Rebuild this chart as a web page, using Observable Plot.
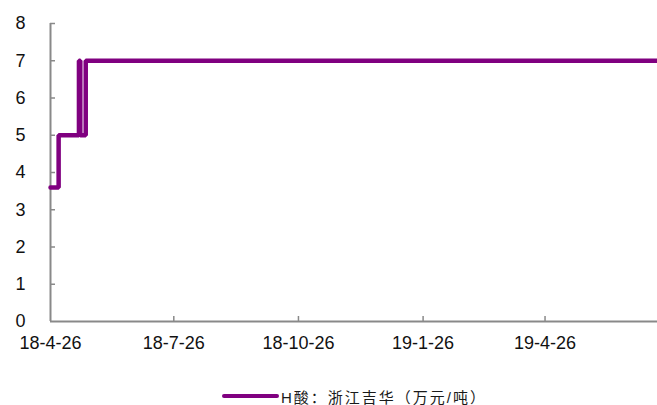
<!DOCTYPE html>
<html>
<head>
<meta charset="utf-8">
<script src="https://cdn.jsdelivr.net/npm/d3@7"></script>
<script src="https://cdn.jsdelivr.net/npm/@observablehq/plot@0.6"></script>
<style>
  html, body { margin: 0; padding: 0; background: #fff; }
  #wrap { position: relative; width: 657px; height: 405px; overflow: hidden; }
  #legend { position: absolute; left: 0; top: 386px; width: 657px; height: 20px;
    font: 15px "Liberation Sans", Arial, "Noto Sans CJK SC", sans-serif; color: #1a1a1a; }
  #legend .sw { position: absolute; left: 222px; top: 8px; width: 57px; height: 4px; background: #800080; border-radius: 2px; }
  #legend .lbl { position: absolute; left: 281px; top: 2px; line-height: 20px; white-space: nowrap; letter-spacing: 2px; }
</style>
</head>
<body>
<div id="wrap">
  <div id="chart"></div>
  <div id="legend"><div class="sw"></div><div class="lbl">H酸：浙江吉华（万元/吨）</div></div>
</div>
<script>
const dates = ["2018-04-26", "2018-05-02", "2018-05-17", "2018-05-18", "2018-05-22", "2019-07-18"];
const values = [3.6, 5, 7, 5, 7, 7];
const xTickDates = ["2018-04-26", "2018-07-26", "2018-10-26", "2019-01-26", "2019-04-26"];
const yTicks = [0, 1, 2, 3, 4, 5, 6, 7, 8];
const xDomain = ["2018-04-26", "2019-07-18"];

const data = dates.map((d, i) => ({date: new Date(d + "T00:00:00Z"), value: values[i]}));
const xt = xTickDates.map(d => new Date(d + "T00:00:00Z"));
const fmt = d => `${String(d.getUTCFullYear()).slice(2)}-${d.getUTCMonth() + 1}-${d.getUTCDate()}`;
const start = new Date(xDomain[0] + "T00:00:00Z");
const axisColor = "#898989";

const chart = Plot.plot({
  width: 657,
  height: 365,
  marginLeft: 50,
  marginRight: 0,
  marginTop: 23,
  marginBottom: 44,
  style: {fontFamily: "'Liberation Sans', Arial, sans-serif", fontSize: "18px", color: "#111", background: "#fff"},
  x: {type: "utc", domain: xDomain.map(d => new Date(d + "T00:00:00Z"))},
  y: {domain: [0, 8]},
  marks: [
    Plot.axisY(yTicks, {tickSize: 0, tickPadding: 25, fontSize: 18, fill: "#111", tickFormat: d => String(d), label: null}),
    Plot.axisY(yTicks.filter(d => d > 0), {tickSize: -5, stroke: axisColor, strokeWidth: 1.5, tickFormat: () => "", label: null}),
    Plot.axisX(xt, {tickSize: 0, tickPadding: 15, fontSize: 18, fill: "#111", tickFormat: fmt, label: null}),
    Plot.axisX(xt.slice(1), {tickSize: -5, stroke: axisColor, strokeWidth: 1.5, tickFormat: () => "", label: null}),
    Plot.ruleX([start], {y1: 0, y2: 8, stroke: axisColor, strokeWidth: 2}),
    Plot.ruleY([0], {stroke: axisColor, strokeWidth: 2}),
    Plot.line(data, {x: "date", y: "value", curve: "step-after", stroke: "#800080", strokeWidth: 4.5, strokeLinejoin: "miter"})
  ]
});
document.getElementById("chart").appendChild(chart);
</script>
</body>
</html>
